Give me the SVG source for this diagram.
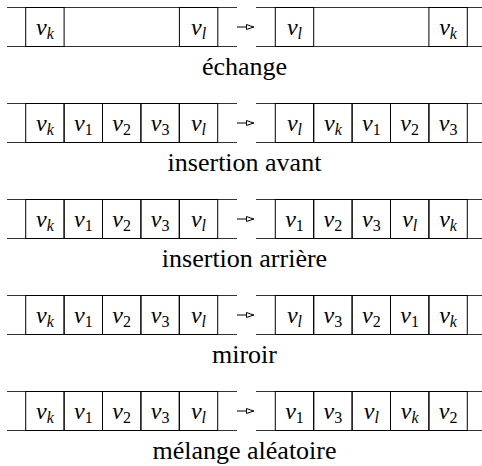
<svg xmlns="http://www.w3.org/2000/svg" width="482" height="466" viewBox="0 0 482 466">
<defs>
<marker id="ah" viewBox="0 0 9 7" refX="8.5" refY="3.5" markerWidth="9" markerHeight="7" markerUnits="userSpaceOnUse" orient="auto">
<path d="M1,1 L8,3.5 L1,6 Z" fill="#fff" stroke="#000" stroke-width="1"/>
</marker>
</defs>

<g id="row1">
<g id="r1-left" stroke="#000" stroke-width="1" fill="none">
<line x1="7" y1="7.5" x2="237" y2="7.5" stroke="#333"/>
<line x1="7" y1="46.5" x2="237" y2="46.5" stroke="#333"/>
<rect x="25.7" y="7.5" width="38.4" height="39"/>
<rect x="179.4" y="7.5" width="38.4" height="39"/>
</g>
<g id="r1-right" stroke="#000" stroke-width="1" fill="none">
<line x1="256" y1="7.5" x2="482" y2="7.5" stroke="#333"/>
<line x1="256" y1="46.5" x2="482" y2="46.5" stroke="#333"/>
<rect x="275.3" y="7.5" width="38.4" height="39"/>
<rect x="428.9" y="7.5" width="38.4" height="39"/>
</g>
<text font-family="Liberation Serif" font-size="24" text-anchor="middle" x="44.9" y="34.5" font-style="italic">v<tspan font-size="16" dy="4">k</tspan></text>
<text font-family="Liberation Serif" font-size="24" text-anchor="middle" x="198.6" y="34.5" font-style="italic">v<tspan font-size="16" dy="4">l</tspan></text>
<text font-family="Liberation Serif" font-size="24" text-anchor="middle" x="294.5" y="34.5" font-style="italic">v<tspan font-size="16" dy="4">l</tspan></text>
<text font-family="Liberation Serif" font-size="24" text-anchor="middle" x="448.1" y="34.5" font-style="italic">v<tspan font-size="16" dy="4">k</tspan></text>
<text font-family="Liberation Serif" font-size="26" text-anchor="middle" x="244.5" y="75">échange</text>
</g>

<g id="row2">
<g id="r2-left" stroke="#000" stroke-width="1" fill="none">
<line x1="7" y1="103.5" x2="237" y2="103.5" stroke="#333"/>
<line x1="7" y1="142.5" x2="237" y2="142.5" stroke="#333"/>
<rect x="25.7" y="103.5" width="38.4" height="39"/>
<rect x="64.1" y="103.5" width="38.4" height="39"/>
<rect x="102.5" y="103.5" width="38.4" height="39"/>
<rect x="140.9" y="103.5" width="38.4" height="39"/>
<rect x="179.3" y="103.5" width="38.4" height="39"/>
</g>
<g id="r2-right" stroke="#000" stroke-width="1" fill="none">
<line x1="256" y1="103.5" x2="482" y2="103.5" stroke="#333"/>
<line x1="256" y1="142.5" x2="482" y2="142.5" stroke="#333"/>
<rect x="275.3" y="103.5" width="38.4" height="39"/>
<rect x="313.7" y="103.5" width="38.4" height="39"/>
<rect x="352.1" y="103.5" width="38.4" height="39"/>
<rect x="390.5" y="103.5" width="38.4" height="39"/>
<rect x="428.9" y="103.5" width="38.4" height="39"/>
</g>
<text font-family="Liberation Serif" font-size="24" text-anchor="middle" x="44.9" y="130.5" font-style="italic">v<tspan font-size="16" dy="4">k</tspan></text>
<text font-family="Liberation Serif" font-size="24" text-anchor="middle" x="83.3" y="130.5" font-style="italic">v<tspan font-size="16" font-style="normal" dy="4">1</tspan></text>
<text font-family="Liberation Serif" font-size="24" text-anchor="middle" x="121.7" y="130.5" font-style="italic">v<tspan font-size="16" font-style="normal" dy="4">2</tspan></text>
<text font-family="Liberation Serif" font-size="24" text-anchor="middle" x="160.1" y="130.5" font-style="italic">v<tspan font-size="16" font-style="normal" dy="4">3</tspan></text>
<text font-family="Liberation Serif" font-size="24" text-anchor="middle" x="198.5" y="130.5" font-style="italic">v<tspan font-size="16" dy="4">l</tspan></text>
<text font-family="Liberation Serif" font-size="24" text-anchor="middle" x="294.5" y="130.5" font-style="italic">v<tspan font-size="16" dy="4">l</tspan></text>
<text font-family="Liberation Serif" font-size="24" text-anchor="middle" x="332.9" y="130.5" font-style="italic">v<tspan font-size="16" dy="4">k</tspan></text>
<text font-family="Liberation Serif" font-size="24" text-anchor="middle" x="371.3" y="130.5" font-style="italic">v<tspan font-size="16" font-style="normal" dy="4">1</tspan></text>
<text font-family="Liberation Serif" font-size="24" text-anchor="middle" x="409.7" y="130.5" font-style="italic">v<tspan font-size="16" font-style="normal" dy="4">2</tspan></text>
<text font-family="Liberation Serif" font-size="24" text-anchor="middle" x="448.1" y="130.5" font-style="italic">v<tspan font-size="16" font-style="normal" dy="4">3</tspan></text>
<text font-family="Liberation Serif" font-size="26" text-anchor="middle" x="244.5" y="171">insertion avant</text>
</g>

<g id="row3">
<g id="r3-left" stroke="#000" stroke-width="1" fill="none">
<line x1="7" y1="199.5" x2="237" y2="199.5" stroke="#333"/>
<line x1="7" y1="238.5" x2="237" y2="238.5" stroke="#333"/>
<rect x="25.7" y="199.5" width="38.4" height="39"/>
<rect x="64.1" y="199.5" width="38.4" height="39"/>
<rect x="102.5" y="199.5" width="38.4" height="39"/>
<rect x="140.9" y="199.5" width="38.4" height="39"/>
<rect x="179.3" y="199.5" width="38.4" height="39"/>
</g>
<g id="r3-right" stroke="#000" stroke-width="1" fill="none">
<line x1="256" y1="199.5" x2="482" y2="199.5" stroke="#333"/>
<line x1="256" y1="238.5" x2="482" y2="238.5" stroke="#333"/>
<rect x="275.3" y="199.5" width="38.4" height="39"/>
<rect x="313.7" y="199.5" width="38.4" height="39"/>
<rect x="352.1" y="199.5" width="38.4" height="39"/>
<rect x="390.5" y="199.5" width="38.4" height="39"/>
<rect x="428.9" y="199.5" width="38.4" height="39"/>
</g>
<text font-family="Liberation Serif" font-size="24" text-anchor="middle" x="44.9" y="226.5" font-style="italic">v<tspan font-size="16" dy="4">k</tspan></text>
<text font-family="Liberation Serif" font-size="24" text-anchor="middle" x="83.3" y="226.5" font-style="italic">v<tspan font-size="16" font-style="normal" dy="4">1</tspan></text>
<text font-family="Liberation Serif" font-size="24" text-anchor="middle" x="121.7" y="226.5" font-style="italic">v<tspan font-size="16" font-style="normal" dy="4">2</tspan></text>
<text font-family="Liberation Serif" font-size="24" text-anchor="middle" x="160.1" y="226.5" font-style="italic">v<tspan font-size="16" font-style="normal" dy="4">3</tspan></text>
<text font-family="Liberation Serif" font-size="24" text-anchor="middle" x="198.5" y="226.5" font-style="italic">v<tspan font-size="16" dy="4">l</tspan></text>
<text font-family="Liberation Serif" font-size="24" text-anchor="middle" x="294.5" y="226.5" font-style="italic">v<tspan font-size="16" font-style="normal" dy="4">1</tspan></text>
<text font-family="Liberation Serif" font-size="24" text-anchor="middle" x="332.9" y="226.5" font-style="italic">v<tspan font-size="16" font-style="normal" dy="4">2</tspan></text>
<text font-family="Liberation Serif" font-size="24" text-anchor="middle" x="371.3" y="226.5" font-style="italic">v<tspan font-size="16" font-style="normal" dy="4">3</tspan></text>
<text font-family="Liberation Serif" font-size="24" text-anchor="middle" x="409.7" y="226.5" font-style="italic">v<tspan font-size="16" dy="4">l</tspan></text>
<text font-family="Liberation Serif" font-size="24" text-anchor="middle" x="448.1" y="226.5" font-style="italic">v<tspan font-size="16" dy="4">k</tspan></text>
<text font-family="Liberation Serif" font-size="26" text-anchor="middle" x="244.5" y="267">insertion arrière</text>
</g>

<g id="row4">
<g id="r4-left" stroke="#000" stroke-width="1" fill="none">
<line x1="7" y1="295.5" x2="237" y2="295.5" stroke="#333"/>
<line x1="7" y1="334.5" x2="237" y2="334.5" stroke="#333"/>
<rect x="25.7" y="295.5" width="38.4" height="39"/>
<rect x="64.1" y="295.5" width="38.4" height="39"/>
<rect x="102.5" y="295.5" width="38.4" height="39"/>
<rect x="140.9" y="295.5" width="38.4" height="39"/>
<rect x="179.3" y="295.5" width="38.4" height="39"/>
</g>
<g id="r4-right" stroke="#000" stroke-width="1" fill="none">
<line x1="256" y1="295.5" x2="482" y2="295.5" stroke="#333"/>
<line x1="256" y1="334.5" x2="482" y2="334.5" stroke="#333"/>
<rect x="275.3" y="295.5" width="38.4" height="39"/>
<rect x="313.7" y="295.5" width="38.4" height="39"/>
<rect x="352.1" y="295.5" width="38.4" height="39"/>
<rect x="390.5" y="295.5" width="38.4" height="39"/>
<rect x="428.9" y="295.5" width="38.4" height="39"/>
</g>
<text font-family="Liberation Serif" font-size="24" text-anchor="middle" x="44.9" y="322.5" font-style="italic">v<tspan font-size="16" dy="4">k</tspan></text>
<text font-family="Liberation Serif" font-size="24" text-anchor="middle" x="83.3" y="322.5" font-style="italic">v<tspan font-size="16" font-style="normal" dy="4">1</tspan></text>
<text font-family="Liberation Serif" font-size="24" text-anchor="middle" x="121.7" y="322.5" font-style="italic">v<tspan font-size="16" font-style="normal" dy="4">2</tspan></text>
<text font-family="Liberation Serif" font-size="24" text-anchor="middle" x="160.1" y="322.5" font-style="italic">v<tspan font-size="16" font-style="normal" dy="4">3</tspan></text>
<text font-family="Liberation Serif" font-size="24" text-anchor="middle" x="198.5" y="322.5" font-style="italic">v<tspan font-size="16" dy="4">l</tspan></text>
<text font-family="Liberation Serif" font-size="24" text-anchor="middle" x="294.5" y="322.5" font-style="italic">v<tspan font-size="16" dy="4">l</tspan></text>
<text font-family="Liberation Serif" font-size="24" text-anchor="middle" x="332.9" y="322.5" font-style="italic">v<tspan font-size="16" font-style="normal" dy="4">3</tspan></text>
<text font-family="Liberation Serif" font-size="24" text-anchor="middle" x="371.3" y="322.5" font-style="italic">v<tspan font-size="16" font-style="normal" dy="4">2</tspan></text>
<text font-family="Liberation Serif" font-size="24" text-anchor="middle" x="409.7" y="322.5" font-style="italic">v<tspan font-size="16" font-style="normal" dy="4">1</tspan></text>
<text font-family="Liberation Serif" font-size="24" text-anchor="middle" x="448.1" y="322.5" font-style="italic">v<tspan font-size="16" dy="4">k</tspan></text>
<text font-family="Liberation Serif" font-size="26" text-anchor="middle" x="244.5" y="363">miroir</text>
</g>

<g id="row5">
<g id="r5-left" stroke="#000" stroke-width="1" fill="none">
<line x1="7" y1="391.5" x2="237" y2="391.5" stroke="#333"/>
<line x1="7" y1="430.5" x2="237" y2="430.5" stroke="#333"/>
<rect x="25.7" y="391.5" width="38.4" height="39"/>
<rect x="64.1" y="391.5" width="38.4" height="39"/>
<rect x="102.5" y="391.5" width="38.4" height="39"/>
<rect x="140.9" y="391.5" width="38.4" height="39"/>
<rect x="179.3" y="391.5" width="38.4" height="39"/>
</g>
<g id="r5-right" stroke="#000" stroke-width="1" fill="none">
<line x1="256" y1="391.5" x2="482" y2="391.5" stroke="#333"/>
<line x1="256" y1="430.5" x2="482" y2="430.5" stroke="#333"/>
<rect x="275.3" y="391.5" width="38.4" height="39"/>
<rect x="313.7" y="391.5" width="38.4" height="39"/>
<rect x="352.1" y="391.5" width="38.4" height="39"/>
<rect x="390.5" y="391.5" width="38.4" height="39"/>
<rect x="428.9" y="391.5" width="38.4" height="39"/>
</g>
<text font-family="Liberation Serif" font-size="24" text-anchor="middle" x="44.9" y="418.5" font-style="italic">v<tspan font-size="16" dy="4">k</tspan></text>
<text font-family="Liberation Serif" font-size="24" text-anchor="middle" x="83.3" y="418.5" font-style="italic">v<tspan font-size="16" font-style="normal" dy="4">1</tspan></text>
<text font-family="Liberation Serif" font-size="24" text-anchor="middle" x="121.7" y="418.5" font-style="italic">v<tspan font-size="16" font-style="normal" dy="4">2</tspan></text>
<text font-family="Liberation Serif" font-size="24" text-anchor="middle" x="160.1" y="418.5" font-style="italic">v<tspan font-size="16" font-style="normal" dy="4">3</tspan></text>
<text font-family="Liberation Serif" font-size="24" text-anchor="middle" x="198.5" y="418.5" font-style="italic">v<tspan font-size="16" dy="4">l</tspan></text>
<text font-family="Liberation Serif" font-size="24" text-anchor="middle" x="294.5" y="418.5" font-style="italic">v<tspan font-size="16" font-style="normal" dy="4">1</tspan></text>
<text font-family="Liberation Serif" font-size="24" text-anchor="middle" x="332.9" y="418.5" font-style="italic">v<tspan font-size="16" font-style="normal" dy="4">3</tspan></text>
<text font-family="Liberation Serif" font-size="24" text-anchor="middle" x="371.3" y="418.5" font-style="italic">v<tspan font-size="16" dy="4">l</tspan></text>
<text font-family="Liberation Serif" font-size="24" text-anchor="middle" x="409.7" y="418.5" font-style="italic">v<tspan font-size="16" dy="4">k</tspan></text>
<text font-family="Liberation Serif" font-size="24" text-anchor="middle" x="448.1" y="418.5" font-style="italic">v<tspan font-size="16" font-style="normal" dy="4">2</tspan></text>
<text font-family="Liberation Serif" font-size="26" text-anchor="middle" x="244.5" y="459">mélange aléatoire</text>
</g>

<g id="connectors" stroke="#000" stroke-width="1" fill="none">
<line x1="237" y1="27" x2="254" y2="27" marker-end="url(#ah)"/>
<line x1="237" y1="123" x2="254" y2="123" marker-end="url(#ah)"/>
<line x1="237" y1="219" x2="254" y2="219" marker-end="url(#ah)"/>
<line x1="237" y1="315" x2="254" y2="315" marker-end="url(#ah)"/>
<line x1="237" y1="411" x2="254" y2="411" marker-end="url(#ah)"/>
</g>
</svg>
